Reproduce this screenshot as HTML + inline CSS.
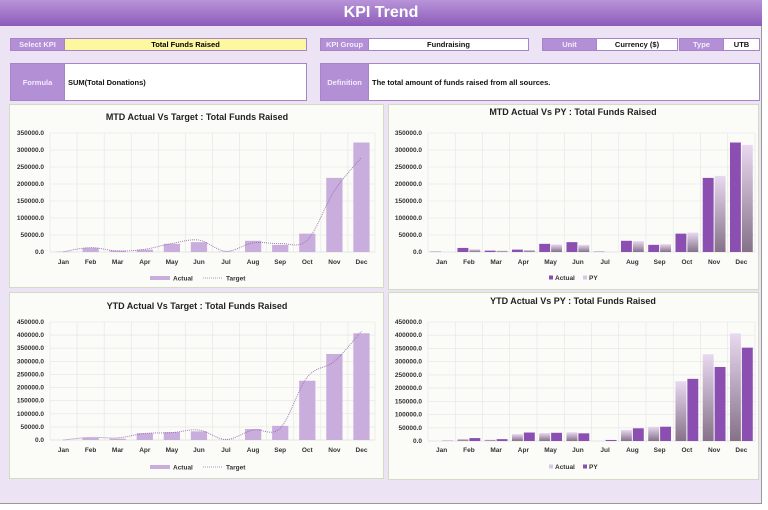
<!DOCTYPE html>
<html><head><meta charset="utf-8"><style>
*{margin:0;padding:0;box-sizing:border-box}
body{width:768px;height:510px;background:#fff;font-family:"Liberation Sans",sans-serif;position:relative;overflow:hidden}
#page{position:absolute;left:0;top:0;width:762px;height:504px;background:#ece4f4;border-right:1px solid #999;border-bottom:1px solid #999}
#title{position:absolute;left:0;top:0;width:762px;height:26px;background:linear-gradient(#b893d8,#8d5cba);color:#fff;font-weight:bold;font-size:16px;text-align:center;line-height:26px}
.b{position:absolute;font-size:7.5px;font-weight:bold;display:flex;align-items:center;justify-content:center;border:1px solid #a783c8}
.l{background:#b38fd5;color:#f4ecfa}
.v{background:#fff;color:#111}
.y{background:#fdf7a0}
.pn{position:absolute;background:#fbfcf8;border:1.5px solid #d3dcc3}
svg{position:absolute;left:0;top:0}
svg text{font-family:"Liberation Sans",sans-serif;font-weight:bold;fill:#333}
.yl{font-size:6.5px;text-anchor:end}
.ml{font-size:6.5px;text-anchor:middle}
.tt{font-size:9px;text-anchor:middle;fill:#222}
.lg{font-size:6.5px}
</style></head><body>
<div id="page">
<div id="title">KPI Trend</div>
<div class="b l" style="left:10px;top:38px;width:55px;height:13px">Select KPI</div>
<div class="b y" style="left:64px;top:38px;width:243px;height:13px">Total Funds Raised</div>
<div class="b l" style="left:320px;top:38px;width:49px;height:13px">KPI Group</div>
<div class="b v" style="left:368px;top:38px;width:161px;height:13px">Fundraising</div>
<div class="b l" style="left:542px;top:38px;width:55px;height:13px">Unit</div>
<div class="b v" style="left:596px;top:38px;width:82px;height:13px">Currency ($)</div>
<div class="b l" style="left:679px;top:38px;width:45px;height:13px">Type</div>
<div class="b v" style="left:723px;top:38px;width:37px;height:13px">UTB</div>
<div class="b l" style="left:10px;top:63px;width:55px;height:38px">Formula</div>
<div class="b v" style="left:64px;top:63px;width:243px;height:38px;justify-content:flex-start;padding-left:3px">SUM(Total Donations)</div>
<div class="b l" style="left:320px;top:63px;width:49px;height:38px">Definition</div>
<div class="b v" style="left:368px;top:63px;width:392px;height:38px;justify-content:flex-start;padding-left:3px">The total amount of funds raised from all sources.</div>
<div class="pn" style="left:9px;top:104px;width:375px;height:184px"></div>
<div class="pn" style="left:388px;top:104px;width:371px;height:186px"></div>
<div class="pn" style="left:9px;top:292px;width:375px;height:187px"></div>
<div class="pn" style="left:388px;top:292px;width:371px;height:188px"></div>
</div>
<svg id="s" width="768" height="510" xmlns="http://www.w3.org/2000/svg">
<defs>
<linearGradient id="g" x1="0" y1="0" x2="0" y2="1"><stop offset="0" stop-color="#e8d8f0"/><stop offset="1" stop-color="#857289"/></linearGradient>
</defs>
<g id="shapes"></g>
<text class="tt" x="197" y="120">MTD Actual Vs Target : Total Funds Raised</text>
<text class="tt" x="573" y="115">MTD Actual Vs PY : Total Funds Raised</text>
<text class="tt" x="197" y="309">YTD Actual Vs Target : Total Funds Raised</text>
<text class="tt" x="573" y="304">YTD Actual Vs PY : Total Funds Raised</text>
<text class="yl" x="44" y="135">350000.0</text><text class="yl" x="44" y="152">300000.0</text><text class="yl" x="44" y="169">250000.0</text><text class="yl" x="44" y="186">200000.0</text><text class="yl" x="44" y="203">150000.0</text><text class="yl" x="44" y="220">100000.0</text><text class="yl" x="44" y="237">50000.0</text><text class="yl" x="44" y="254">0.0</text>
<text class="yl" x="422" y="135">350000.0</text><text class="yl" x="422" y="152">300000.0</text><text class="yl" x="422" y="169">250000.0</text><text class="yl" x="422" y="186">200000.0</text><text class="yl" x="422" y="203">150000.0</text><text class="yl" x="422" y="220">100000.0</text><text class="yl" x="422" y="237">50000.0</text><text class="yl" x="422" y="254">0.0</text>
<text class="yl" x="44" y="324">450000.0</text><text class="yl" x="44" y="337.1">400000.0</text><text class="yl" x="44" y="350.2">350000.0</text><text class="yl" x="44" y="363.3">300000.0</text><text class="yl" x="44" y="376.4">250000.0</text><text class="yl" x="44" y="389.6">200000.0</text><text class="yl" x="44" y="402.7">150000.0</text><text class="yl" x="44" y="415.8">100000.0</text><text class="yl" x="44" y="428.9">50000.0</text><text class="yl" x="44" y="442">0.0</text>
<text class="yl" x="422" y="324">450000.0</text><text class="yl" x="422" y="337.2">400000.0</text><text class="yl" x="422" y="350.4">350000.0</text><text class="yl" x="422" y="363.7">300000.0</text><text class="yl" x="422" y="376.9">250000.0</text><text class="yl" x="422" y="390.1">200000.0</text><text class="yl" x="422" y="403.3">150000.0</text><text class="yl" x="422" y="416.6">100000.0</text><text class="yl" x="422" y="429.8">50000.0</text><text class="yl" x="422" y="443">0.0</text>
<text class="ml" x="63.5" y="264">Jan</text><text class="ml" x="90.6" y="264">Feb</text><text class="ml" x="117.7" y="264">Mar</text><text class="ml" x="144.8" y="264">Apr</text><text class="ml" x="171.9" y="264">May</text><text class="ml" x="198.9" y="264">Jun</text><text class="ml" x="226" y="264">Jul</text><text class="ml" x="253.1" y="264">Aug</text><text class="ml" x="280.2" y="264">Sep</text><text class="ml" x="307.3" y="264">Oct</text><text class="ml" x="334.4" y="264">Nov</text><text class="ml" x="361.5" y="264">Dec</text>
<text class="ml" x="441.6" y="264">Jan</text><text class="ml" x="468.9" y="264">Feb</text><text class="ml" x="496.1" y="264">Mar</text><text class="ml" x="523.4" y="264">Apr</text><text class="ml" x="550.6" y="264">May</text><text class="ml" x="577.9" y="264">Jun</text><text class="ml" x="605.1" y="264">Jul</text><text class="ml" x="632.4" y="264">Aug</text><text class="ml" x="659.6" y="264">Sep</text><text class="ml" x="686.9" y="264">Oct</text><text class="ml" x="714.1" y="264">Nov</text><text class="ml" x="741.4" y="264">Dec</text>
<text class="ml" x="63.5" y="452">Jan</text><text class="ml" x="90.6" y="452">Feb</text><text class="ml" x="117.7" y="452">Mar</text><text class="ml" x="144.8" y="452">Apr</text><text class="ml" x="171.9" y="452">May</text><text class="ml" x="198.9" y="452">Jun</text><text class="ml" x="226" y="452">Jul</text><text class="ml" x="253.1" y="452">Aug</text><text class="ml" x="280.2" y="452">Sep</text><text class="ml" x="307.3" y="452">Oct</text><text class="ml" x="334.4" y="452">Nov</text><text class="ml" x="361.5" y="452">Dec</text>
<text class="ml" x="441.6" y="452">Jan</text><text class="ml" x="468.9" y="452">Feb</text><text class="ml" x="496.1" y="452">Mar</text><text class="ml" x="523.4" y="452">Apr</text><text class="ml" x="550.6" y="452">May</text><text class="ml" x="577.9" y="452">Jun</text><text class="ml" x="605.1" y="452">Jul</text><text class="ml" x="632.4" y="452">Aug</text><text class="ml" x="659.6" y="452">Sep</text><text class="ml" x="686.9" y="452">Oct</text><text class="ml" x="714.1" y="452">Nov</text><text class="ml" x="741.4" y="452">Dec</text>
<rect x="150" y="276" width="20" height="4" fill="#c9addd"/><text class="lg" x="173" y="280.5">Actual</text>
<line x1="203" y1="278" x2="222" y2="278" stroke="#9a70b0" stroke-width="0.8" stroke-dasharray="1,1"/><text class="lg" x="226" y="280.5">Target</text>
<rect x="150" y="465" width="20" height="4" fill="#c9addd"/><text class="lg" x="173" y="469.5">Actual</text>
<line x1="203" y1="467" x2="222" y2="467" stroke="#9a70b0" stroke-width="0.8" stroke-dasharray="1,1"/><text class="lg" x="226" y="469.5">Target</text>
<rect x="549" y="275.5" width="4" height="4" fill="#8a4fb0"/><text class="lg" x="555" y="280">Actual</text>
<rect x="583" y="275.5" width="4" height="4" fill="#d9c6e4"/><text class="lg" x="589" y="280">PY</text>
<rect x="549" y="464.5" width="4" height="4" fill="#d9c6e4"/><text class="lg" x="555" y="469">Actual</text>
<rect x="583" y="464.5" width="4" height="4" fill="#8a4fb0"/><text class="lg" x="589" y="469">PY</text>
</svg>
<script>
var NS="http://www.w3.org/2000/svg",G=document.getElementById("shapes");
function el(t,a){var e=document.createElementNS(NS,t);for(var k in a)e.setAttribute(k,a[k]);G.appendChild(e);return e;}
function chart(c){
 var cw=(c.x1-c.x0)/12,n=c.max/c.step;
 for(var i=0;i<=n;i++){var y=c.yb-(c.yb-c.yt)*i/n;el("line",{x1:c.x0,x2:c.x1,y1:y,y2:y,stroke:i==0?"#d0d0d0":"#e4e4e4","stroke-width":0.6});}
 for(var i=0;i<=12;i++){var x=c.x0+cw*i;el("line",{x1:x,x2:x,y1:c.yt,y2:c.yb,stroke:"#e4e4e4","stroke-width":0.6});}
 function Y(v){return c.yb-(c.yb-c.yt)*v/c.max;}
 for(var i=0;i<12;i++){var cx=c.x0+cw*(i+.5);
  if(c.line){var w=cw*0.6;el("rect",{x:cx-w/2,y:Y(c.a[i]),width:w,height:c.yb-Y(c.a[i]),fill:"#c9addd"});}
  else{var w=cw*0.4;
   el("rect",{x:cx-w-0.5,y:Y(c.a[i]),width:w,height:c.yb-Y(c.a[i]),fill:c.af});
   el("rect",{x:cx+0.5,y:Y(c.b[i]),width:w,height:c.yb-Y(c.b[i]),fill:c.bf});}
 }
 if(c.line){var p=[];for(var i=0;i<12;i++)p.push([c.x0+cw*(i+.5),Y(c.b[i])]);
  var d="M"+p[0][0]+","+p[0][1];
  for(var i=0;i<11;i++){var p0=p[Math.max(0,i-1)],p1=p[i],p2=p[i+1],p3=p[Math.min(11,i+2)];
   d+=" C"+(p1[0]+(p2[0]-p0[0])/6)+","+(p1[1]+(p2[1]-p0[1])/6)+" "+(p2[0]-(p3[0]-p1[0])/6)+","+(p2[1]-(p3[1]-p1[1])/6)+" "+p2[0]+","+p2[1];}
  el("path",{d:d,fill:"none",stroke:"#9a70b0","stroke-width":0.9,"stroke-dasharray":"1,1"});}
}
var mA=[1000,12000,4000,7000,24000,29000,1000,33000,21000,54000,218000,322000],
mT=[1000,13000,3000,8000,25000,35000,2000,27000,25000,35000,180000,278000],
mP=[500,8000,4000,6000,22000,21000,500,32000,23000,57000,224000,315000],
yA=[0,8000,5000,26000,30000,33000,1000,42000,54000,226000,328000,407000],
yT=[0,10000,8000,25000,28000,38000,2000,38000,45000,240000,300000,415000],
yP=[1000,11000,7000,32000,31000,29000,4000,48000,54000,235000,280000,353000];
chart({x0:50,x1:375,yt:133,yb:252,max:350000,step:50000,a:mA,b:mT,line:1});
chart({x0:428,x1:755,yt:133,yb:252,max:350000,step:50000,a:mA,b:mP,af:"#8a4fb0",bf:"url(#g)"});
chart({x0:50,x1:375,yt:322,yb:440,max:450000,step:50000,a:yA,b:yT,line:1});
chart({x0:428,x1:755,yt:322,yb:441,max:450000,step:50000,a:yA,b:yP,af:"url(#g)",bf:"#8a4fb0"});
</script>
</body></html>
